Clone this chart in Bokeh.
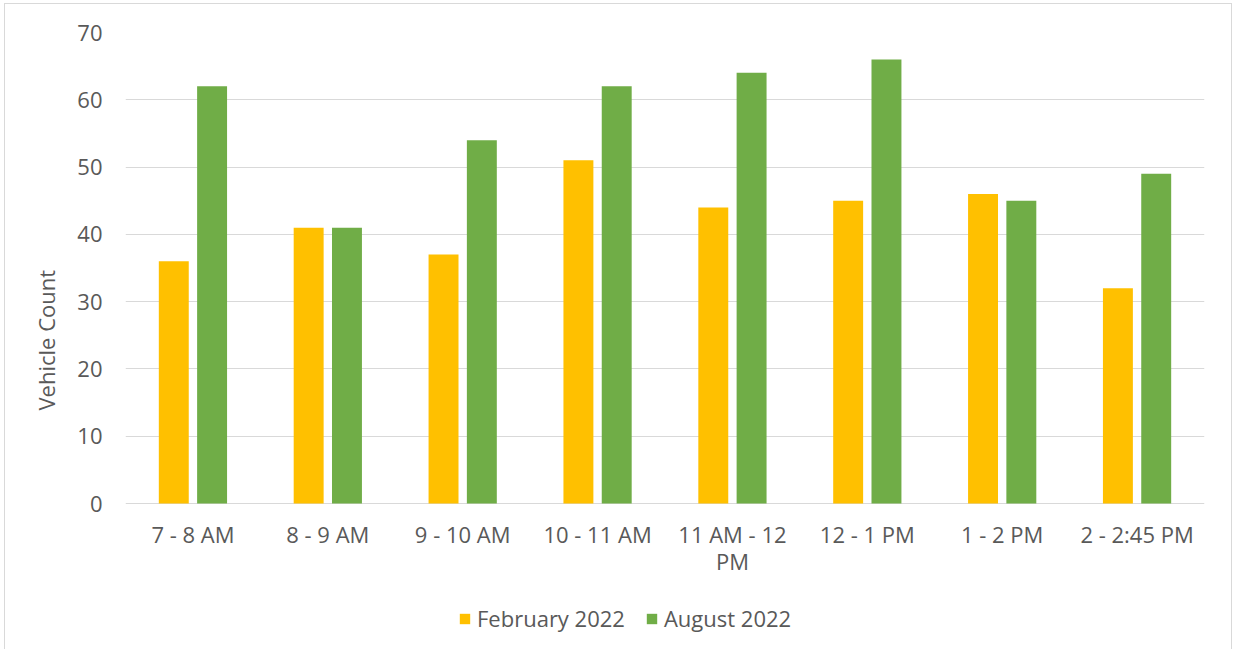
from bokeh.plotting import figure
from bokeh.models import Range1d, FactorRange, Legend, LegendItem, ColumnDataSource, Title
from bokeh.core.properties import value
from bokeh.transform import dodge
from bokeh.embed import file_html
from bokeh.resources import INLINE

categories = ["7 - 8 AM", "8 - 9 AM", "9 - 10 AM", "10 - 11 AM",
              "11 AM - 12\nPM", "12 - 1 PM", "1 - 2 PM", "2 - 2:45 PM"]
feb_2022 = [36, 41, 37, 51, 44, 45, 46, 32]
aug_2022 = [62, 41, 54, 62, 64, 66, 45, 49]
y_ticks = [0, 10, 20, 30, 40, 50, 60, 70]
series_names = ["February 2022", "August 2022"]
y_title = "Vehicle Count"

FONT = "Open Sans"
TXT = "#595959"
GRID = "#D9D9D9"
FS = "22px"

src = ColumnDataSource(dict(cat=categories, feb=feb_2022, aug=aug_2022,
                            base=[0] * len(categories)))

# frame extends below the zero line so the category labels and legend live inside it
p = figure(frame_width=1079, frame_height=615, x_range=FactorRange(*categories, range_padding=0),
           y_range=Range1d(-21.4, 70), output_backend="svg", toolbar_location=None,
           min_border_left=120, min_border_right=27, min_border_top=28, min_border_bottom=2)
p.styles = {"border-top": "1px solid #D9D9D9", "border-left": "1px solid #D9D9D9",
            "border-right": "1px solid #D9D9D9", "margin-left": "4px", "margin-top": "3px"}
p.outline_line_color = None
p.background_fill_color = "white"

r1 = p.vbar(x=dodge("cat", -0.142, range=p.x_range), top="feb", bottom="base", width=0.222,
            source=src, fill_color="#FFC000", line_color=None)
r2 = p.vbar(x=dodge("cat", 0.142, range=p.x_range), top="aug", bottom="base", width=0.222,
            source=src, fill_color="#70AD47", line_color=None)

# category labels
p.text(x="cat", y="base", text="cat", source=src, y_offset=15,
       text_align="center", text_baseline="top", text_line_height=0.93,
       text_font=value(FONT), text_font_size=value(FS), text_color=TXT)

p.xaxis.visible = False
p.xgrid.grid_line_color = None

p.yaxis.ticker = y_ticks
p.ygrid.ticker = y_ticks
p.ygrid.grid_line_color = GRID
p.ygrid.grid_line_width = 1

ax = p.yaxis[0]
ax.axis_line_color = None
ax.major_tick_line_color = None
ax.minor_tick_line_color = None
ax.major_tick_out = 0
ax.major_tick_in = 0
ax.major_label_text_font = FONT
ax.major_label_text_font_size = FS
ax.major_label_text_color = TXT
ax.major_label_standoff = 23

ytitle = Title(text=y_title, align="left", offset=237, standoff=28,
               text_font=FONT, text_font_size=FS, text_font_style="normal", text_color=TXT)
p.add_layout(ytitle, "left")

legend = Legend(items=[LegendItem(label=series_names[0], renderers=[r1]),
                       LegendItem(label=series_names[1], renderers=[r2])],
                orientation="horizontal", location=(333, 14),
                glyph_width=13, glyph_height=13, label_standoff=6, spacing=20,
                padding=0, margin=0, border_line_color=None, background_fill_alpha=0,
                label_text_font=FONT, label_text_font_size=FS, label_text_color=TXT)
p.add_layout(legend, "center")

open("out.html", "w").write(file_html(p, INLINE))
